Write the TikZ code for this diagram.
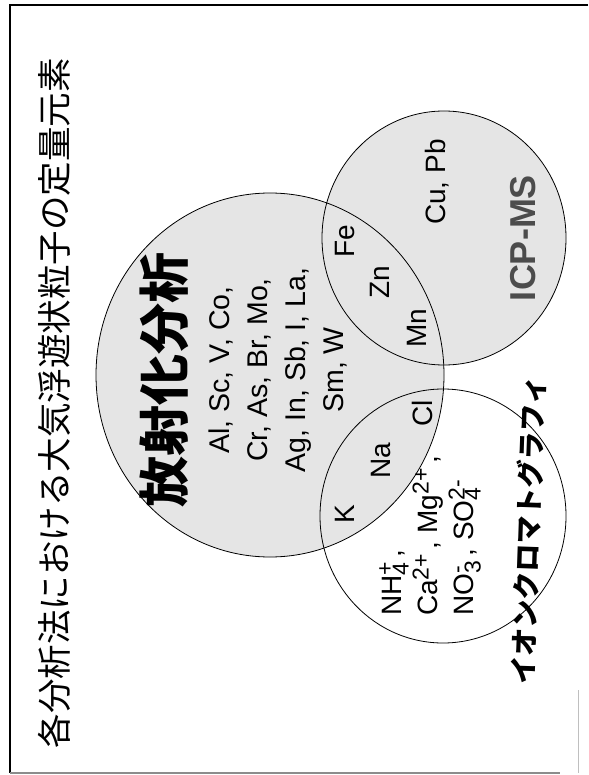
\documentclass[tikz,border=0pt]{standalone}
\usepackage{fontspec}
\setmainfont{Liberation Sans}
\newfontfamily\jp{Noto Sans CJK JP}
\newcommand\ssb[2]{\sbox0{\fontsize{23}{23}\selectfont #1}\sbox2{\fontsize{23}{23}\selectfont #2}%
  \rlap{\raisebox{-7pt}{\usebox0}}\rlap{\raisebox{9pt}{\usebox2}}%
  \hspace{\ifdim\wd0>\wd2 \wd0\else\wd2\fi}}
\definecolor{dots}{gray}{0.9}
\tikzset{
  rim/.style={draw=black, line width=0.8pt},
  lbl/.style={rotate=90, inner sep=0pt, font=\fontsize{28}{34}\selectfont},
}
\begin{document}
\begin{tikzpicture}[x=1pt,y=-1pt]
\useasboundingbox (0,0) rectangle (588,775);
\fill[white] (0,0) rectangle (588,775);
% frame
\draw[line width=2pt] (588,5) -- (10,5) -- (10,773);
\draw[line width=1.5pt, black!45] (10,773) -- (560,773);
\draw[line width=1pt, black!25] (578,690) -- (578,773);
% fills
\fill[dots] (270,375) ellipse [x radius=174pt, y radius=182pt];
\fill[dots] (444,238) ellipse [x radius=122pt, y radius=127pt];
% outlines
\draw[rim] (270,375) ellipse [x radius=174pt, y radius=182pt];
\draw[rim] (444,238) ellipse [x radius=122pt, y radius=127pt];
\draw[rim] (443,516) ellipse [x radius=123pt, y radius=127pt];
% title
\node[rotate=90, inner sep=0pt, font=\jp\fontsize{34.5}{40}\selectfont] (title) at (54,403) {各分析法における大気浮遊状粒子の定量元素};
% neutron activation
\node[rotate=90, inner sep=0pt, font=\jp\bfseries\fontsize{51}{56}\selectfont] (naa) at (164,380) {放射化分析};
\node[lbl, align=center, font=\fontsize{28.5}{38}\selectfont] (elems) at (278,370) {Al, Sc, V, Co,\\Cr, As, Br, Mo,\\Ag, In, Sb, I, La,\\Sm, W};
% overlap NAA / ICP
\node[lbl] (fe) at (345,241) {Fe};
\node[lbl] (zn) at (380,282) {Zn};
\node[lbl] (mn) at (417,328) {Mn};
% ICP-MS
\node[lbl] (cupb) at (437,182) {Cu, Pb};
\node[rotate=90, inner sep=0pt, text=black!70, font=\bfseries\fontsize{36}{40}\selectfont] (icp) at (523,238) {ICP-MS};
% overlap NAA / IC
\node[lbl] (k) at (345,514) {K};
\node[lbl] (na) at (381,461) {Na};
\node[lbl] (cl) at (422,413) {Cl};
% ions
\node[lbl, anchor=west, align=left, font=\fontsize{28}{36}\selectfont] (ions) at (430,616)
  {NH\ssb{4}{+}\,,\\Ca\ssb{}{2+}\,, Mg\ssb{}{2+}\,,\\NO\ssb{3}{-}\,, SO\ssb{4}{2-}};
% ion chromatography
\node[rotate=88, inner sep=0pt, font=\jp\bfseries\fontsize{28}{32}\selectfont] (ic) at (528,530) {イオンクロマトグラフィ};
\end{tikzpicture}
\end{document}
